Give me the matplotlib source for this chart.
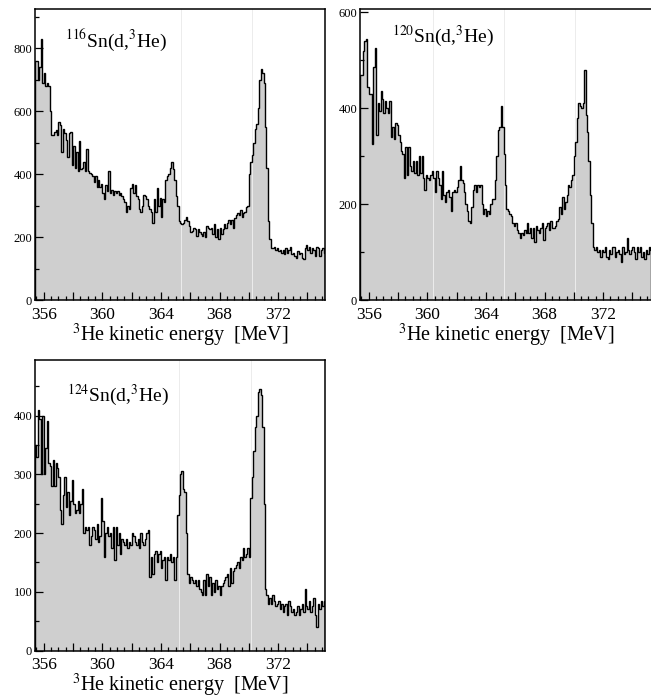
import numpy as np
import matplotlib
matplotlib.use('Agg')
import matplotlib.pyplot as plt
from matplotlib.ticker import MultipleLocator, FuncFormatter

plt.rcParams.update({
    'font.family': ['Liberation Serif', 'DejaVu Serif'],
    'mathtext.fontset': 'stix',
})

# histogram binning (MeV)
bin_lo = 355.4
bin_w = 0.1

# 116Sn(d,3He) counts per bin
sn116 = [
    760,
    760, 700, 740, 830, 690, 720, 680, 690, 680, 600,
    525, 525, 535, 540, 525, 565, 555, 470, 545, 530,
    510, 455, 530, 535, 430, 490, 420, 470, 410, 505,
    415, 420, 440, 410, 480, 410, 405, 400, 395, 375,
    395, 360, 380, 360, 370, 340, 320, 365, 345, 410,
    340, 350, 335, 345, 340, 345, 335, 340, 330, 320,
    310, 280, 300, 290, 355, 370, 340, 365, 330, 320,
    290, 280, 300, 335, 330, 320, 300, 290, 280, 245,
    320, 280, 355, 300, 325, 265, 320, 310, 380, 395,
    400, 420, 440, 415, 380, 330, 300, 250, 245, 240,
    245, 255, 265, 250, 235, 215, 220, 230, 225, 205,
    225, 215, 210, 205, 215, 200, 235, 230, 225, 230,
    210, 240, 200, 225, 195, 230, 210, 225, 240, 230,
    245, 255, 240, 255, 230, 260, 270, 275, 270, 285,
    265, 275, 280, 295, 300, 400, 440, 460, 500, 545,
    560, 610, 700, 735, 720, 690, 550, 420, 250, 195,
    165, 165, 170, 160, 165, 155, 160, 150, 160, 145,
    165, 150, 160, 170, 145, 150, 140, 135, 155, 145,
    150, 135, 130, 165, 175, 160, 170, 150, 165, 160,
    140, 170, 165, 140, 160, 165, 150,
]

# 120Sn(d,3He) counts per bin
sn120 = [
    470,
    470, 520, 540, 545, 445, 430, 430, 325, 485, 525,
    345, 410, 395, 435, 420, 390, 415, 400, 390, 415,
    340, 360, 335, 370, 365, 345, 330, 310, 305, 255,
    320, 260, 320, 280, 270, 290, 265, 290, 260, 300,
    265, 300, 255, 230, 260, 255, 250, 260, 270, 255,
    225, 270, 255, 240, 210, 270, 220, 205, 225, 230,
    215, 185, 225, 230, 225, 235, 250, 280, 250, 245,
    225, 200, 185, 165, 160, 195, 230, 240, 225, 240,
    235, 240, 200, 180, 190, 175, 185, 180, 200, 210,
    210, 250, 300, 355, 360, 405, 360, 305, 240, 190,
    185, 180, 175, 160, 155, 160, 145, 140, 130, 140,
    135, 145, 140, 160, 140, 150, 130, 150, 120, 155,
    145, 140, 150, 160, 125, 150, 155, 160, 145, 165,
    150, 150, 155, 165, 170, 195, 180, 215, 190, 205,
    220, 240, 235, 250, 260, 300, 330, 380, 410, 405,
    400, 410, 480, 385, 350, 290, 220, 160, 110, 105,
    110, 100, 105, 90, 105, 100, 110, 90, 85, 105,
    95, 110, 110, 90, 100, 105, 95, 80, 110, 95,
    100, 130, 105, 95, 105, 110, 100, 85, 110, 100,
    110, 90, 100, 85, 105, 95, 110, 105,
]

# 124Sn(d,3He) counts per bin
sn124 = [
    350, 330, 410, 395, 300, 400, 300, 345, 390, 320,
    315, 280, 325, 280, 320, 310, 295, 240, 215, 265,
    295, 245, 270, 230, 255, 290, 250, 235, 240, 255,
    235, 250, 275, 200, 210, 205, 210, 180, 195, 210,
    205, 190, 215, 185, 195, 260, 220, 160, 200, 210,
    195, 200, 175, 210, 155, 210, 180, 200, 165, 190,
    185, 180, 190, 175, 185, 180, 200, 195, 185, 180,
    190, 175, 200, 185, 180, 190, 200, 205, 125, 160,
    130, 165, 170, 150, 165, 170, 140, 155, 160, 120,
    160, 155, 165, 150, 160, 120, 160, 230, 265, 300,
    305, 275, 270, 200, 130, 115, 125, 120, 115, 120,
    110, 120, 105, 100, 95, 120, 95, 130, 110, 125,
    95, 115, 100, 120, 105, 110, 95, 110, 115, 120,
    125, 130, 110, 140, 115, 135, 140, 145, 150, 140,
    160, 155, 175, 160, 165, 175, 160, 260, 295, 340,
    380, 400, 440, 445, 435, 380, 250, 105, 95, 80,
    90, 80, 95, 85, 75, 80, 85, 70, 80, 65,
    75, 80, 60, 85, 75, 65, 70, 60, 65, 75,
    60, 70, 80, 65, 105, 75, 70, 85, 65, 75,
    90, 60, 40, 80, 70, 85, 75, 85,
]

labels = [r'$^{116}$Sn(d,$^{3}$He)', r'$^{120}$Sn(d,$^{3}$He)', r'$^{124}$Sn(d,$^{3}$He)']
ymaxes = [925, 607, 495]
xmaxes = [375.2, 375.34, 375.2]
ymajor = [200, 200, 100]
yminor = [100, 100, 50]
seams = [[365.35, 370.2], [360.4, 365.2, 370.05], [365.25, 370.13]]

fig = plt.figure(figsize=(6.51, 6.98), dpi=100)
rects = [
    [0.0538, 0.5702, 0.4455, 0.4169],
    [0.5530, 0.5702, 0.4486, 0.4169],
    [0.0538, 0.0680, 0.4455, 0.4165],
]
label_pos = [(0.103, 0.893), (0.109, 0.905), (0.109, 0.877)]

for k, counts in enumerate([sn116, sn120, sn124]):
    ax = fig.add_axes(rects[k])
    counts = np.array(counts, dtype=float)
    edges = bin_lo + bin_w * np.arange(len(counts) + 1)
    ax.stairs(counts, edges, fill=True, color='#cfcfcf', zorder=1)
    for s in seams[k]:
        ax.axvline(s, color='#ececec', lw=0.7, zorder=1.5)
    ax.stairs(counts, edges, color='black', lw=1.0, zorder=2)

    ax.set_xlim(355.4, xmaxes[k])
    ax.set_ylim(0, ymaxes[k])

    ax.xaxis.set_major_locator(MultipleLocator(2))
    ax.xaxis.set_minor_locator(MultipleLocator(0.5))
    ax.xaxis.set_major_formatter(FuncFormatter(
        lambda v, p: '%d' % round(v) if round(v) % 4 == 0 else ''))
    ax.yaxis.set_major_locator(MultipleLocator(ymajor[k]))
    ax.yaxis.set_minor_locator(MultipleLocator(yminor[k]))

    ax.tick_params(which='both', direction='in', top=False, right=False,
                   width=0.9, color='black')
    ax.tick_params(which='major', length=6)
    ax.tick_params(which='minor', length=3)
    ax.tick_params(axis='x', which='major', labelsize=12.5, pad=5)
    ax.tick_params(axis='y', which='major', labelsize=9, pad=2)

    for sp in ax.spines.values():
        sp.set_linewidth(1.1)

    ax.set_xlabel(r'$^{3}$He kinetic energy  [MeV]', fontsize=14.5, labelpad=-1)
    ax.text(label_pos[k][0], label_pos[k][1], labels[k], transform=ax.transAxes,
            fontsize=14, va='center', ha='left')

fig.savefig('out.png', dpi=100)
